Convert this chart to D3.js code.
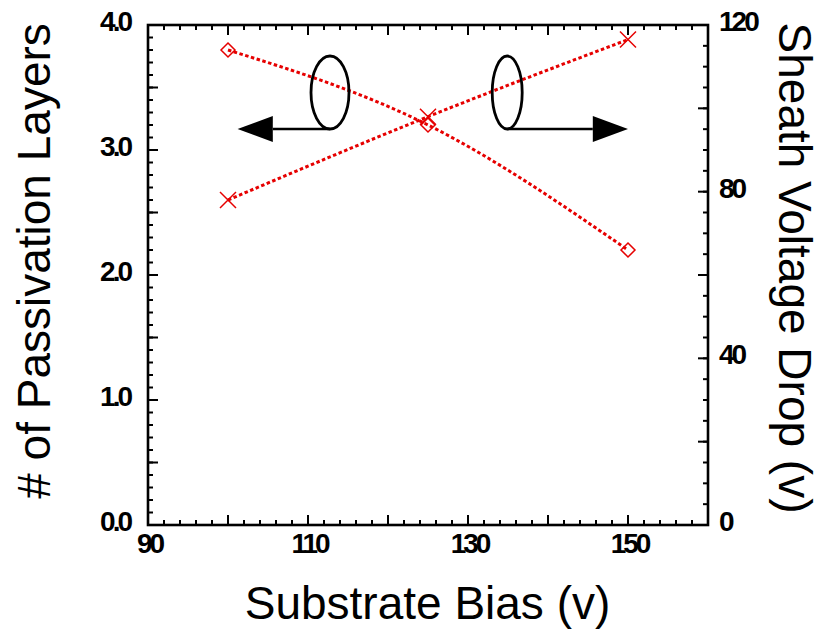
<!DOCTYPE html>
<html>
<head>
<meta charset="utf-8">
<script src="https://cdn.jsdelivr.net/npm/d3@7"></script>
<style>
  html, body { margin: 0; padding: 0; background: #fff; }
  svg { display: block; }
  .lbl { font-family: 'Liberation Sans', Arial, sans-serif; font-weight: bold; font-size: 28px; letter-spacing: -3px; fill: #000; }
  .ttl { font-family: 'Liberation Sans', Arial, sans-serif; font-size: 46px; fill: #000; }
</style>
</head>
<body>
<svg id="chart" width="831" height="629"></svg>
<script>
// ---- data ----
const substrateBias = [100, 125, 150];
const passivationLayers = [3.8, 3.2, 2.2];
const sheathVoltageDrop = [78, 98, 116.5];
const xTickLabels = [90, 110, 130, 150];
const leftTickLabels = [0, 1, 2, 3, 4];
const rightTickLabels = [0, 40, 80, 120];
const xTitle = "Substrate Bias (v)";
const leftTitle = "# of Passivation Layers";
const rightTitle = "Sheath Voltage Drop (v)";
// annotation ellipses/arrows in data units (x: bias, y: left axis)
const leftMarker = { cx: 112.75, cy: 3.46, rx: 2.375, ry: 0.292, arrowY: 3.168, baseX: 105.6, tipX: 101.2, half: 0.104 };
const rightMarker = { cx: 134.9, cy: 3.46, rx: 1.875, ry: 0.292, arrowY: 3.168, baseX: 145.6, tipX: 150.0, half: 0.104 };

// ---- layout ----
const plotLeft = 148, plotRight = 708, plotTop = 25, plotBottom = 525;
const svg = d3.select("#chart");
const x = d3.scaleLinear().domain([90, 160]).range([plotLeft, plotRight]);
const yL = d3.scaleLinear().domain([0, 4]).range([plotBottom, plotTop]);
const yR = d3.scaleLinear().domain([0, 120]).range([plotBottom, plotTop]);
const red = "#e60000";

const xMinor = d3.range(90, 160.01, 2);
const xMajor = d3.range(90, 160.01, 10);
const lMinor = d3.range(0, 40.01, 1).map(d => d / 10);
const lMajor = d3.range(0, 4.01, 0.5);
const rMinor = d3.range(0, 120.01, 5);
const rMajor = d3.range(0, 120.01, 20);

// frame
svg.append("rect").attr("x", plotLeft).attr("y", plotTop).attr("width", plotRight - plotLeft).attr("height", plotBottom - plotTop)
  .attr("fill", "none").attr("stroke", "#000").attr("stroke-width", 2.6);

// ticks (inward on all four sides)
const ticks = svg.append("g").attr("stroke", "#000").attr("stroke-width", 2);
function hTicks(vals, len) {
  vals.forEach(d => {
    ticks.append("line").attr("x1", x(d)).attr("x2", x(d)).attr("y1", plotBottom).attr("y2", plotBottom - len);
    ticks.append("line").attr("x1", x(d)).attr("x2", x(d)).attr("y1", plotTop).attr("y2", plotTop + len);
  });
}
function vTicks(scale, vals, x0, dir, len) {
  vals.forEach(d => ticks.append("line").attr("x1", x0).attr("x2", x0 + dir * len).attr("y1", scale(d)).attr("y2", scale(d)));
}
hTicks(xMinor, 5); hTicks(xMajor, 10);
vTicks(yL, lMinor, plotLeft, 1, 5); vTicks(yL, lMajor, plotLeft, 1, 10);
vTicks(yR, rMinor, plotRight, -1, 5); vTicks(yR, rMajor, plotRight, -1, 10);

// tick labels
svg.append("g").selectAll("text").data(xTickLabels).join("text").attr("class", "lbl")
  .attr("x", d => x(d) + 1.5).attr("y", plotBottom + 28).attr("text-anchor", "middle").text(d => d);
svg.append("g").selectAll("text").data(leftTickLabels).join("text").attr("class", "lbl")
  .attr("x", plotLeft - 18).attr("y", d => yL(d) + 6).attr("text-anchor", "end").text(d => d.toFixed(1));
svg.append("g").selectAll("text").data(rightTickLabels).join("text").attr("class", "lbl")
  .attr("x", plotRight + 11).attr("y", d => yR(d) + 6).attr("text-anchor", "start").text(d => d);

// axis titles
svg.append("text").attr("class", "ttl").attr("x", (plotLeft + plotRight) / 2 - 0.5).attr("y", 619)
  .attr("text-anchor", "middle").text(xTitle);
svg.append("text").attr("class", "ttl").attr("transform", `translate(50,${(plotTop + plotBottom) / 2 - 14}) rotate(-90)`)
  .attr("text-anchor", "middle").text(leftTitle);
svg.append("text").attr("class", "ttl").attr("transform", `translate(779,${(plotTop + plotBottom) / 2 - 7}) rotate(90)`)
  .attr("text-anchor", "middle").text(rightTitle);

// series lines
const lineL = d3.line().x((d, i) => x(substrateBias[i])).y(d => yL(d)).curve(d3.curveNatural);
const lineR = d3.line().x((d, i) => x(substrateBias[i])).y(d => yR(d)).curve(d3.curveNatural);
svg.append("path").attr("d", lineL(passivationLayers)).attr("fill", "none").attr("stroke", red)
  .attr("stroke-width", 3).attr("stroke-dasharray", "3.5,2.5");
svg.append("path").attr("d", lineR(sheathVoltageDrop)).attr("fill", "none").attr("stroke", red)
  .attr("stroke-width", 3).attr("stroke-dasharray", "3.5,2.5");

// markers
svg.append("g").selectAll("path").data(passivationLayers).join("path")
  .attr("transform", (d, i) => `translate(${x(substrateBias[i])},${yL(d)})`)
  .attr("d", "M0,-7L7,0L0,7L-7,0Z").attr("fill", "none").attr("stroke", red).attr("stroke-width", 1.5);
svg.append("g").selectAll("path").data(sheathVoltageDrop).join("path")
  .attr("transform", (d, i) => `translate(${x(substrateBias[i])},${yR(d)})`)
  .attr("d", "M-8,-8L8,8M-8,8L8,-8").attr("fill", "none").attr("stroke", red).attr("stroke-width", 1.5);

// annotations
function drawMarker(m) {
  const g = svg.append("g");
  g.append("ellipse").attr("cx", x(m.cx)).attr("cy", yL(m.cy))
    .attr("rx", x(m.cx + m.rx) - x(m.cx)).attr("ry", yL(m.cy - m.ry) - yL(m.cy))
    .attr("fill", "none").attr("stroke", "#000").attr("stroke-width", 2.8);
  g.append("line").attr("x1", x(m.cx)).attr("x2", x(m.baseX)).attr("y1", yL(m.arrowY)).attr("y2", yL(m.arrowY))
    .attr("stroke", "#000").attr("stroke-width", 2.5);
  const pts = [[x(m.baseX), yL(m.arrowY + m.half)], [x(m.tipX), yL(m.arrowY)], [x(m.baseX), yL(m.arrowY - m.half)]];
  g.append("path").attr("d", d3.line()(pts) + "Z").attr("fill", "#000");
}
drawMarker(leftMarker);
drawMarker(rightMarker);
</script>
</body>
</html>
